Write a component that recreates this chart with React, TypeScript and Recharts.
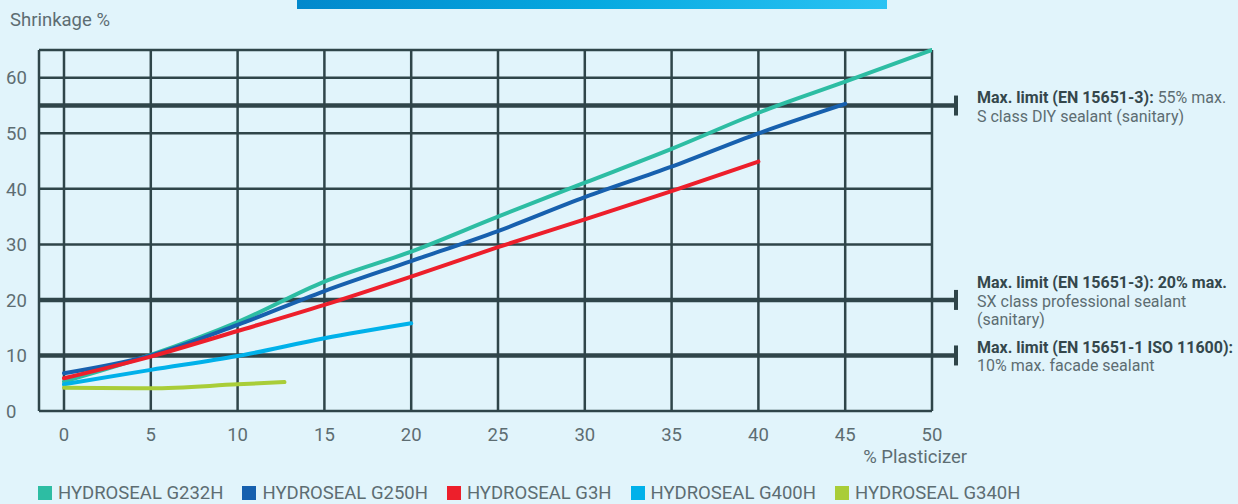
import React from "react";
import { LineChart, Line, XAxis, YAxis, CartesianGrid, ReferenceLine } from "recharts";

// axis ticks
const plasticizerTicks = [0, 5, 10, 15, 20, 25, 30, 35, 40, 45, 50];
const shrinkageTicks = [0, 10, 20, 30, 40, 50, 60];

// series
const g232hX = [0, 5, 10, 15, 20, 25, 30, 35, 40, 45, 50];
const g232hY = [5.3, 10.1, 16, 23.3, 28.7, 35, 41.1, 47.2, 53.7, 59.3, 65];

const g250hX = [0, 5, 10, 15, 20, 25, 30, 35, 40, 45];
const g250hY = [6.8, 10, 15.5, 21.6, 27, 32.4, 38.5, 44, 50, 55.3];

const g3hX = [0, 5, 10, 15, 20, 25, 30, 35, 40];
const g3hY = [5.9, 9.8, 14.4, 19.1, 24.2, 29.5, 34.5, 39.6, 44.9];

const g400hX = [0, 5, 10, 15, 20];
const g400hY = [4.8, 7.4, 9.9, 13.1, 15.8];

const g340hX = [0, 5, 10, 12.7];
const g340hY = [4.2, 4.1, 4.8, 5.2];

// limit lines and their notes
const limitValues = [55, 20, 10];
const limitNotes = [
  [
    { bold: "Max. limit (EN 15651-3):", text: " 55% max." },
    { bold: "", text: "S class DIY sealant (sanitary)" },
  ],
  [
    { bold: "Max. limit (EN 15651-3): 20% max.", text: "" },
    { bold: "", text: "SX class professional sealant" },
    { bold: "", text: "(sanitary)" },
  ],
  [
    { bold: "Max. limit (EN 15651-1 ISO 11600):", text: "" },
    { bold: "", text: "10% max. facade sealant" },
  ],
];

const GRID = "#2f4549";
const MUTED = "#5d6d72";
const FONT = "Roboto, 'Noto Sans', sans-serif";

const toPoints = (xs: number[], ys: number[]) => xs.map((x, i) => ({ x, y: ys[i] }));

const series = [
  { name: "HYDROSEAL G232H", color: "#2dbda3", data: toPoints(g232hX, g232hY) },
  { name: "HYDROSEAL G250H", color: "#1760ae", data: toPoints(g250hX, g250hY) },
  { name: "HYDROSEAL G3H", color: "#ed1f2b", data: toPoints(g3hX, g3hY) },
  { name: "HYDROSEAL G400H", color: "#00b1ea", data: toPoints(g400hX, g400hY) },
  { name: "HYDROSEAL G340H", color: "#a9cd38", data: toPoints(g340hX, g340hY) },
];

function YTick({ y, payload }: any) {
  return (
    <text x={6} y={y} dy="0.36em" textAnchor="start" fill={MUTED} fontSize={18.5} fontFamily={FONT}>
      {payload.value}
    </text>
  );
}

function limitShape(notes: { bold: string; text: string }[]) {
  return (props: any) => {
    const { x1, y1, x2 } = props;
    const end = x2 + 24;
    const lineH = 18.5;
    const first = y1 - ((notes.length - 1) * lineH) / 2 + 1;
    return (
      <g>
        <line x1={x1} y1={y1} x2={end} y2={y1} stroke={GRID} strokeWidth={4.5} />
        <line x1={end} y1={y1 - 10} x2={end} y2={y1 + 10} stroke={GRID} strokeWidth={4} />
        {notes.map((n, i) => (
          <text key={i} x={x2 + 45} y={first + i * lineH} dy="0.36em" fontSize={16} fontFamily={FONT}>
            {n.bold && (
              <tspan fill="#34474c" fontWeight={700}>
                {n.bold}
              </tspan>
            )}
            {n.text && <tspan fill={MUTED}>{n.text}</tspan>}
          </text>
        ))}
      </g>
    );
  };
}

export default function App() {
  return (
    <div
      style={{
        position: "absolute",
        left: 0,
        top: 0,
        width: 1238,
        height: 504,
        background: "#e1f4fb",
        fontFamily: FONT,
        overflow: "hidden",
      }}
    >
      <div
        style={{
          position: "absolute",
          left: 297,
          top: 0,
          width: 590,
          height: 9,
          background: "linear-gradient(90deg, #0288cc 0%, #06a9e0 50%, #2bc3f3 100%)",
        }}
      />
      <div style={{ position: "absolute", left: 10, top: 9, fontSize: 18.5, lineHeight: "22px", color: MUTED }}>
        Shrinkage %
      </div>
      <div
        style={{
          position: "absolute",
          right: 1238 - 967,
          top: 446,
          fontSize: 18.5,
          lineHeight: "22px",
          color: MUTED,
        }}
      >
        % Plasticizer
      </div>

      <LineChart width={1238} height={504} margin={{ top: 50, right: 306, left: 0, bottom: 53 }}>
        <CartesianGrid stroke={GRID} strokeWidth={2.5} />
        <XAxis
          type="number"
          dataKey="x"
          domain={[-1.44, 50]}
          ticks={plasticizerTicks}
          allowDataOverflow
          height={40}
          axisLine={false}
          tickLine={false}
          tickMargin={11}
          tick={{ fill: MUTED, fontSize: 18.5, fontFamily: FONT }}
        />
        <YAxis
          type="number"
          domain={[0, 65]}
          ticks={shrinkageTicks}
          width={39}
          axisLine={false}
          tickLine={false}
          tick={<YTick />}
        />
        {limitValues.map((v, i) => (
          <ReferenceLine key={v} y={v} stroke={GRID} ifOverflow="visible" shape={limitShape(limitNotes[i])} />
        ))}
        {series.map((s) => (
          <Line
            key={s.name}
            data={s.data}
            dataKey="y"
            name={s.name}
            type="monotone"
            stroke={s.color}
            strokeWidth={4}
            strokeLinecap="round"
            dot={false}
            activeDot={false}
            isAnimationActive={false}
          />
        ))}
      </LineChart>

      <div
        style={{
          position: "absolute",
          left: 38,
          top: 482,
          display: "flex",
          alignItems: "center",
          gap: 19,
          fontSize: 18.5,
          lineHeight: "22px",
          color: MUTED,
          whiteSpace: "nowrap",
        }}
      >
        {series.map((s) => (
          <div key={s.name} style={{ display: "flex", alignItems: "center", gap: 6 }}>
            <span style={{ display: "inline-block", width: 14, height: 14, background: s.color }} />
            <span>{s.name}</span>
          </div>
        ))}
      </div>
    </div>
  );
}
